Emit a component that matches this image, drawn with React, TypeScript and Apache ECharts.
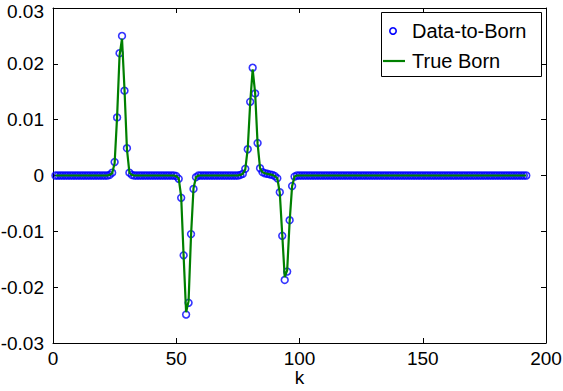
import React, { useEffect, useRef } from 'react';
import * as echarts from 'echarts';

// sample index k = 1..192
const kValues: number[] = Array.from({ length: 192 }, (_, i) => i + 1);

const xTicks = [0, 50, 100, 150, 200];
const yTicks = [-0.03, -0.02, -0.01, 0, 0.01, 0.02, 0.03];

// non-zero samples of the "Data-to-Born" estimate (all other samples read as 0)
const dataToBornPeaks: [number, number][] = [
  [23, 0.0001], [24, 0.0005], [25, 0.0024], [26, 0.0104], [27, 0.0219], [28, 0.025],
  [29, 0.0152], [30, 0.0049], [31, 0.0005], [32, 0.0001],
  [50, -0.0001], [51, -0.0006], [52, -0.004], [53, -0.0143], [54, -0.0249], [55, -0.0228],
  [56, -0.0105], [57, -0.0024], [58, -0.0003],
  [76, 0.0001], [77, 0.0003], [78, 0.0012], [79, 0.0047], [80, 0.0132], [81, 0.0193],
  [82, 0.0147], [83, 0.0058], [84, 0.0013], [85, 0.0006], [86, 0.0004], [87, 0.0003],
  [88, 0.0002], [89, 0.0001], [90, -0.0001], [91, -0.0005],
  [92, -0.003], [93, -0.0108], [94, -0.0187], [95, -0.0172], [96, -0.008], [97, -0.0019],
  [98, -0.0002],
];

// non-zero samples of the "True Born" curve
const trueBornPeaks: [number, number][] = [
  [23, 0.0001], [24, 0.0004], [25, 0.0022], [26, 0.0105], [27, 0.0215], [28, 0.0245],
  [29, 0.0155], [30, 0.0047], [31, 0.0005], [32, 0.0001],
  [50, -0.0001], [51, -0.0005], [52, -0.0038], [53, -0.0145], [54, -0.0245], [55, -0.0225],
  [56, -0.0107], [57, -0.0023], [58, -0.0003],
  [76, 0.0001], [77, 0.0003], [78, 0.0011], [79, 0.0048], [80, 0.013], [81, 0.019],
  [82, 0.0148], [83, 0.0057], [84, 0.0013], [85, 0.0006], [86, 0.0004], [87, 0.0003],
  [88, 0.0002], [89, 0.0001], [90, -0.0001], [91, -0.0005],
  [92, -0.0031], [93, -0.0106], [94, -0.0182], [95, -0.017], [96, -0.0082], [97, -0.0019],
  [98, -0.0002],
];

const buildSeries = (peaks: [number, number][]) => {
  const m = new Map<number, number>(peaks);
  return kValues.map((k) => [k, m.get(k) ?? 0]);
};

const FONT = '"Liberation Sans", Arial, Helvetica, sans-serif';

export default function App() {
  const ref = useRef<HTMLDivElement>(null);
  useEffect(() => {
    if (!ref.current) return;
    const chart = echarts.init(ref.current, undefined, { renderer: 'svg' });
    const yMax = yTicks[yTicks.length - 1];
    const fmt = (v: number) => {
      const r = Math.round(v * 100) / 100;
      const s = r === 0 ? '0' : String(r);
      return Math.abs(r - yMax) < 1e-9 ? `{top|${s}}` : s;
    };
    const axisCommon = {
      type: 'value' as const,
      axisLine: { show: true, onZero: false, lineStyle: { color: '#000', width: 1 } },
      axisTick: { show: true, inside: true, length: 5, lineStyle: { color: '#000' } },
      splitLine: { show: false },
    };
    chart.setOption({
      animation: false,
      backgroundColor: '#fff',
      grid: { left: 53, right: 17, top: 8, bottom: 48, containLabel: false, outerBoundsMode: 'none' },
      xAxis: [
        {
          ...axisCommon,
          position: 'bottom',
          min: xTicks[0],
          max: xTicks[xTicks.length - 1],
          interval: 50,
          name: 'k',
          nameLocation: 'middle',
          nameGap: 25,
          nameMoveOverlap: false,
          nameTextStyle: { color: '#000', fontSize: 19, fontFamily: FONT, lineHeight: 19 },
          axisLabel: { color: '#000', fontSize: 19, fontFamily: FONT, margin: 6 },
        },
        {
          ...axisCommon,
          position: 'top',
          min: xTicks[0],
          max: xTicks[xTicks.length - 1],
          interval: 50,
          axisLabel: { show: false },
        },
      ],
      yAxis: [
        {
          ...axisCommon,
          position: 'left',
          min: yTicks[0],
          max: yMax,
          interval: 0.01,
          axisLabel: {
            color: '#000',
            fontSize: 19,
            fontFamily: FONT,
            margin: 9,
            lineHeight: 16,
            formatter: fmt,
            rich: {
              top: { color: '#000', fontSize: 19, fontFamily: FONT, lineHeight: 16, padding: [6, 0, 0, 0] },
            },
          },
        },
        {
          ...axisCommon,
          position: 'right',
          min: yTicks[0],
          max: yMax,
          interval: 0.01,
          axisLabel: { show: false },
        },
      ],
      series: [
        {
          name: 'Data-to-Born',
          type: 'scatter',
          data: buildSeries(dataToBornPeaks),
          symbol: 'circle',
          symbolSize: 6.8,
          itemStyle: { color: 'rgba(0,0,0,0)', borderColor: '#0000ff', borderWidth: 1.6 },
          z: 2,
        },
        {
          name: 'True Born',
          type: 'line',
          data: buildSeries(trueBornPeaks),
          symbol: 'none',
          lineStyle: { color: '#008000', width: 2.2 },
          z: 3,
        },
      ],
      graphic: [
        {
          type: 'group',
          z: 100,
          children: [
            {
              type: 'rect',
              shape: { x: 381.5, y: 12.5, width: 160, height: 64 },
              style: { fill: '#fff', stroke: '#000', lineWidth: 1 },
            },
            {
              type: 'circle',
              shape: { cx: 393, cy: 31, r: 3.2 },
              style: { fill: 'none', stroke: '#0000ff', lineWidth: 1.6 },
            },
            {
              type: 'line',
              shape: { x1: 383, y1: 61, x2: 405, y2: 61 },
              style: { stroke: '#008000', lineWidth: 2.2 },
            },
            {
              type: 'text',
              x: 412,
              y: 31,
              style: { text: 'Data-to-Born', fill: '#000', fontSize: 20, fontFamily: FONT, verticalAlign: 'middle', align: 'left' },
            },
            {
              type: 'text',
              x: 412,
              y: 61,
              style: { text: 'True Born', fill: '#000', fontSize: 20, fontFamily: FONT, verticalAlign: 'middle', align: 'left' },
            },
          ],
        },
      ],
    });
    return () => chart.dispose();
  }, []);
  return (
    <div
      ref={ref}
      style={{ position: 'fixed', left: 0, top: 0, width: 563, height: 391, background: '#fff' }}
    />
  );
}
